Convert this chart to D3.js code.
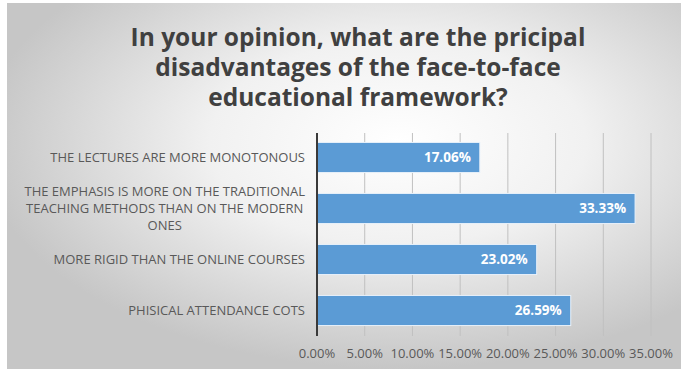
<!DOCTYPE html>
<html>
<head>
<meta charset="utf-8">
<script src="https://cdn.jsdelivr.net/npm/d3@7"></script>
<style>
  html, body { margin: 0; padding: 0; background: #fff; }
  svg { display: block; }
</style>
</head>
<body>
<svg id="chart" width="681" height="369"></svg>
<script>
// 데이터
const categories = [
  ["THE LECTURES ARE MORE MONOTONOUS"],
  ["THE EMPHASIS IS MORE ON THE TRADITIONAL", "TEACHING METHODS THAN ON THE MODERN", "ONES"],
  ["MORE RIGID THAN THE ONLINE COURSES"],
  ["PHISICAL ATTENDANCE COTS"]
];
const values = [0.1706, 0.3333, 0.2302, 0.2659];
const ticks = [0, 0.05, 0.10, 0.15, 0.20, 0.25, 0.30, 0.35];
const titleLines = [
  "In your opinion, what are the pricipal",
  "disadvantages of the face-to-face",
  "educational framework?"
];

const svg = d3.select("#chart");
const font = "'Open Sans', 'DejaVu Sans', sans-serif";

// 배경 (회색 그라데이션)
const defs = svg.append("defs");
const grad = defs.append("radialGradient")
  .attr("id", "bg")
  .attr("cx", "58%").attr("cy", "38%").attr("r", "62%");
grad.append("stop").attr("offset", "0%").attr("stop-color", "#ffffff");
grad.append("stop").attr("offset", "45%").attr("stop-color", "#f1f1f1");
grad.append("stop").attr("offset", "100%").attr("stop-color", "#c6c6c6");

svg.append("rect")
  .attr("x", 7).attr("y", 3)
  .attr("width", 674).attr("height", 366)
  .attr("fill", "url(#bg)");

// 제목
svg.append("g")
  .selectAll("text")
  .data(titleLines)
  .enter()
  .append("text")
  .attr("x", 358)
  .attr("y", (d, i) => 46 + i * 30)
  .attr("text-anchor", "middle")
  .attr("font-family", font)
  .attr("font-weight", 700)
  .attr("font-size", 24.5)
  .attr("fill", "#404040")
  .text(d => d);

// 스케일
const x = d3.scaleLinear().domain([0, 0.35]).range([317, 651]);
const y = d3.scaleBand()
  .domain(d3.range(categories.length))
  .range([132, 336])
  .paddingInner(0.41)
  .paddingOuter(0.205);

// 그리드
svg.append("g")
  .selectAll("line")
  .data(ticks.slice(1))
  .enter()
  .append("line")
  .attr("x1", d => x(d)).attr("x2", d => x(d))
  .attr("y1", 133).attr("y2", 336)
  .attr("stroke", "#c0c0c0")
  .attr("stroke-width", 1);

// 막대
svg.append("g")
  .selectAll("rect")
  .data(values)
  .enter()
  .append("rect")
  .attr("x", x(0))
  .attr("y", (d, i) => y(i))
  .attr("width", d => x(d) - x(0))
  .attr("height", y.bandwidth())
  .attr("fill", "#5b9bd5")
  .attr("stroke", "#e8f1fa")
  .attr("stroke-width", 1);

// 세로축
svg.append("line")
  .attr("x1", x(0)).attr("x2", x(0))
  .attr("y1", 133).attr("y2", 336)
  .attr("stroke", "#3a3a3a")
  .attr("stroke-width", 2);

// 값 라벨
svg.append("g")
  .selectAll("text")
  .data(values)
  .enter()
  .append("text")
  .attr("x", d => x(d) - 9)
  .attr("y", (d, i) => y(i) + y.bandwidth() / 2)
  .attr("dy", "0.35em")
  .attr("text-anchor", "end")
  .attr("font-family", font)
  .attr("font-weight", 700)
  .attr("font-size", 13.5)
  .attr("fill", "#ffffff")
  .text(d => (d * 100).toFixed(2) + "%");

// 카테고리 라벨
const catG = svg.append("g");
categories.forEach((lines, i) => {
  const cy = y(i) + y.bandwidth() / 2;
  const lh = 17;
  const t = catG.append("text")
    .attr("font-family", font)
    .attr("font-size", 13)
    .attr("fill", "#595959");
  lines.forEach((ln, j) => {
    t.append("tspan")
      .attr("y", cy + (j - (lines.length - 1) / 2) * lh)
      .attr("dy", "0.35em")
      .text(ln);
  });
  // 블록은 오른쪽 정렬, 줄은 가운데 정렬
  const spans = t.selectAll("tspan").nodes();
  const maxW = d3.max(spans, s => s.getComputedTextLength());
  const cx = 305 - maxW / 2;
  t.selectAll("tspan").attr("x", cx).attr("text-anchor", "middle");
});

// x축 눈금 라벨
svg.append("g")
  .selectAll("text")
  .data(ticks)
  .enter()
  .append("text")
  .attr("x", d => x(d))
  .attr("y", 353)
  .attr("dy", "0.35em")
  .attr("text-anchor", "middle")
  .attr("font-family", font)
  .attr("font-size", 13)
  .attr("fill", "#595959")
  .text(d => (d * 100).toFixed(2) + "%");
</script>
</body>
</html>
